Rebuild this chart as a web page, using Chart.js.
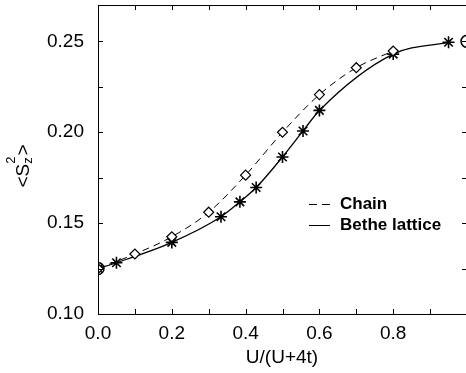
<!DOCTYPE html>
<html lang="en">
<head>
    <meta charset="UTF-8">
    <style>
        html,
        body {
            margin: 0;
            padding: 0;
            background: #fff;
            overflow: hidden;
        }

        canvas {
            display: block;
        }
    </style>
</head>
<body>
    <canvas id="szChart" width="472" height="373"></canvas>

    <script src="https://cdn.jsdelivr.net/npm/chart.js"></script>
    <script>
        // chain (dashed, diamonds)
        const chainX = [0, 0.1, 0.2, 0.3, 0.4, 0.5, 0.6, 0.7, 0.8];
        const chainY = [0.125, 0.133, 0.1425, 0.156, 0.1764, 0.200, 0.2207, 0.2355, 0.2447];

        // bethe lattice (solid, stars)
        const betheX = [0, 0.05, 0.2, 0.3333, 0.3846, 0.4286, 0.5, 0.5556, 0.6, 0.8, 0.95];
        const betheY = [0.125, 0.1282, 0.1394, 0.1535, 0.1617, 0.1696, 0.1864, 0.2007, 0.212, 0.243, 0.2495];

        // limiting values (circles)
        const limitX = [0, 1.0];
        const limitY = [0.125, 0.25];

        const xTickValues = [0, 0.1, 0.2, 0.3, 0.4, 0.5, 0.6, 0.7, 0.8, 0.9, 1.0];
        const xTickLabels = ['0.0', '', '0.2', '', '0.4', '', '0.6', '', '0.8', '', ''];
        const yTickValues = [0.10, 0.125, 0.15, 0.175, 0.20, 0.225, 0.25];
        const yTickLabels = ['0.10', '', '0.15', '', '0.20', '', '0.25'];

        const legendNames = ['Chain', 'Bethe lattice'];
        const xTitle = 'U/(U+4t)';

        const FONT = '"Liberation Sans", Arial, Helvetica, sans-serif';

        const toPoints = (xs, ys) => xs.map((x, i) => ({ x: x, y: ys[i] }));

        // keep chart.js from adding label overflow padding
        const noPad = s => {
            s.paddingTop = 0; s.paddingBottom = 0;
            s.paddingLeft = 0; s.paddingRight = 0;
        };

        // frame, inward ticks, titles and legend
        const decorations = {
            id: 'decorations',
            afterDraw(chart) {
                const { ctx, chartArea: a, scales: { x, y } } = chart;
                ctx.save();
                ctx.strokeStyle = '#000';
                ctx.lineWidth = 1;
                ctx.setLineDash([]);
                ctx.strokeRect(a.left + 0.5, a.top + 0.5, a.right - a.left, a.bottom - a.top);

                ctx.beginPath();
                xTickValues.forEach(v => {
                    const px = Math.round(x.getPixelForValue(v)) + 0.5;
                    ctx.moveTo(px, a.bottom); ctx.lineTo(px, a.bottom - 5);
                    ctx.moveTo(px, a.top); ctx.lineTo(px, a.top + 5);
                });
                yTickValues.forEach(v => {
                    const py = Math.round(y.getPixelForValue(v)) + 0.5;
                    ctx.moveTo(a.left, py); ctx.lineTo(a.left + 5, py);
                    ctx.moveTo(a.right, py); ctx.lineTo(a.right - 5, py);
                });
                ctx.stroke();

                // x title
                ctx.fillStyle = '#000';
                ctx.font = '19px ' + FONT;
                ctx.textAlign = 'center';
                ctx.textBaseline = 'middle';
                ctx.fillText(xTitle, 282, 358);

                // y title <S_z^2>
                ctx.translate(29, 166);
                ctx.rotate(-Math.PI / 2);
                ctx.textAlign = 'left';
                ctx.textBaseline = 'alphabetic';
                ctx.font = '19px ' + FONT;
                const wS = ctx.measureText('<S').width;
                const wGt = ctx.measureText('>').width;
                ctx.font = '13px ' + FONT;
                const wSub = Math.max(ctx.measureText('z').width, ctx.measureText('2').width);
                const total = wS + wSub + 1 + wGt;
                let cx = -total / 2;
                ctx.font = '19px ' + FONT;
                ctx.fillText('<S', cx, 0);
                cx += wS;
                ctx.font = '13px ' + FONT;
                ctx.fillText('z', cx, 3);
                ctx.fillText('2', cx, -14);
                cx += wSub + 1;
                ctx.font = '19px ' + FONT;
                ctx.fillText('>', cx, 0);
                ctx.restore();

                // legend
                ctx.save();
                ctx.font = 'bold 17px ' + FONT;
                ctx.fillStyle = '#000';
                ctx.textBaseline = 'middle';
                ctx.strokeStyle = '#000';
                ctx.lineWidth = 1;
                const rows = [204, 225];
                legendNames.forEach((name, i) => {
                    ctx.beginPath();
                    ctx.setLineDash(i === 0 ? [8, 5] : []);
                    ctx.moveTo(309, rows[i] + 0.5);
                    ctx.lineTo(330, rows[i] + 0.5);
                    ctx.stroke();
                    ctx.fillText(name, 340, rows[i]);
                });
                ctx.restore();
            }
        };

        const ctx = document.getElementById('szChart').getContext('2d');
        const szChart = new Chart(ctx, {
            type: 'scatter',
            data: {
                datasets: [
                    {
                        label: legendNames[0],
                        data: toPoints(chainX, chainY),
                        showLine: true,
                        borderColor: '#000',
                        borderWidth: 1,
                        borderDash: [7, 5],
                        cubicInterpolationMode: 'monotone',
                        pointStyle: 'rectRot',
                        pointRadius: 5,
                        pointBorderWidth: 1.2,
                        pointBorderColor: '#000',
                        pointBackgroundColor: '#fff'
                    },
                    {
                        label: legendNames[1],
                        data: toPoints(betheX, betheY),
                        showLine: true,
                        borderColor: '#000',
                        borderWidth: 1.3,
                        cubicInterpolationMode: 'monotone',
                        pointStyle: 'star',
                        pointRadius: 6,
                        pointBorderWidth: 1.6,
                        pointBorderColor: '#000',
                        pointBackgroundColor: '#000'
                    },
                    {
                        label: 'limit',
                        data: toPoints(limitX, limitY),
                        showLine: false,
                        pointStyle: 'circle',
                        pointRadius: 6,
                        pointBorderWidth: 1.5,
                        pointBorderColor: '#000',
                        pointBackgroundColor: 'rgba(0,0,0,0)'
                    }
                ]
            },
            options: {
                responsive: false,
                animation: false,
                devicePixelRatio: 1,
                layout: {
                    autoPadding: false,
                    padding: { top: 5, right: 5, left: 0, bottom: 0 }
                },
                scales: {
                    x: {
                        type: 'linear',
                        min: 0,
                        max: 1.0,
                        afterBuildTicks: s => { s.ticks = xTickValues.map(v => ({ value: v })); },
                        afterFit: s => { s.height = 59; noPad(s); },
                        grid: { display: false, drawTicks: false },
                        border: { display: false },
                        ticks: {
                            autoSkip: false,
                            maxRotation: 0,
                            padding: 8,
                            color: '#000',
                            font: { family: FONT, size: 19 },
                            callback: (v, i) => xTickLabels[i]
                        }
                    },
                    y: {
                        type: 'linear',
                        min: 0.10,
                        max: 0.27,
                        afterBuildTicks: s => { s.ticks = yTickValues.map(v => ({ value: v })); },
                        afterFit: s => { s.width = 98; noPad(s); },
                        grid: { display: false, drawTicks: false },
                        border: { display: false },
                        ticks: {
                            autoSkip: false,
                            padding: 14,
                            color: '#000',
                            font: { family: FONT, size: 19 },
                            callback: (v, i) => yTickLabels[i]
                        }
                    }
                },
                plugins: {
                    legend: { display: false },
                    tooltip: { enabled: false }
                }
            },
            plugins: [decorations]
        });
    </script>
</body>
</html>
